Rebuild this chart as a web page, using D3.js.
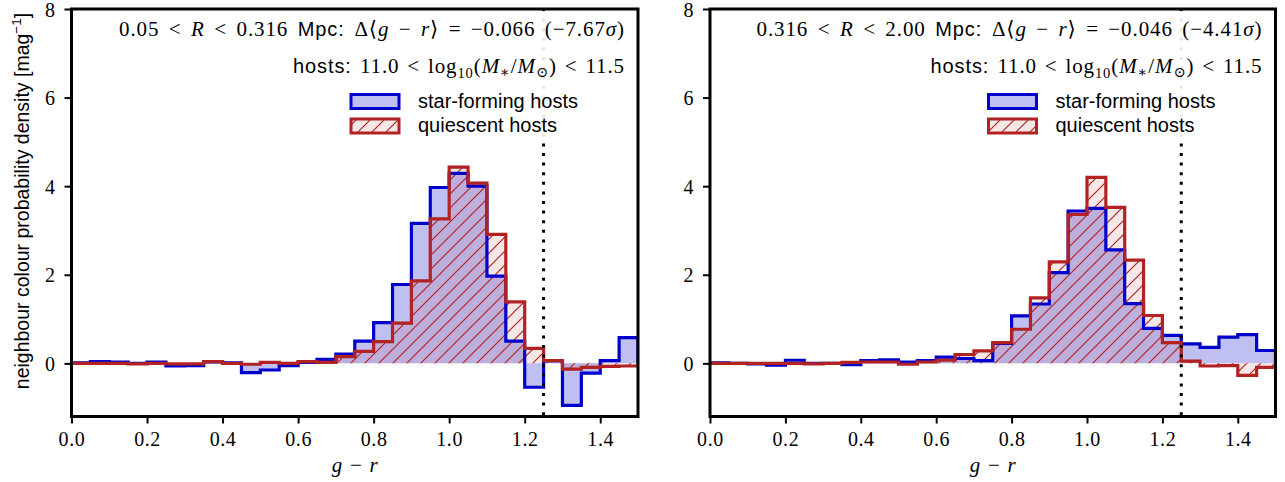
<!DOCTYPE html>
<html>
<head>
<meta charset="utf-8">
<script src="https://cdn.jsdelivr.net/npm/d3@7"></script>
<style>
  html, body { margin: 0; padding: 0; background: #fff; }
  svg { display: block; }
  .serif { font-family: "Liberation Serif", "DejaVu Serif", serif; }
  .sans { font-family: "Liberation Sans", "DejaVu Sans", sans-serif; }
</style>
</head>
<body>
<svg id="chart" width="1285" height="482"></svg>
<script>
// Bin left edges of g−r (bin width 0.05)
const binEdges = d3.range(0, 1.5001, 0.05).map(v => +v.toFixed(2));

// Inner radius bin: 0.05 < R < 0.316 Mpc
const sfInner = [0.01, 0.04, 0.03, 0.00, 0.03, -0.06, -0.05, 0.03, 0.01, -0.21,
                 -0.15, -0.05, 0.02, 0.09, 0.21, 0.50, 0.92, 1.78, 3.16, 3.97,
                 4.29, 4.00, 1.97, 0.50, -0.54, 0.06, -0.95, -0.22, 0.06, 0.58];
const qInner  = [0.00, 0.00, 0.00, -0.01, 0.00, -0.01, -0.01, 0.04, 0.00, -0.02,
                 0.02, 0.00, 0.04, 0.02, 0.15, 0.27, 0.49, 0.91, 1.86, 3.26,
                 4.43, 4.07, 2.91, 1.39, 0.34, 0.06, -0.13, -0.09, -0.07, -0.06];

// Outer radius bin: 0.316 < R < 2.00 Mpc
const sfOuter = [0.01, 0.00, -0.01, -0.04, 0.07, 0.00, 0.00, -0.03, 0.06, 0.08,
                 0.03, 0.06, 0.14, 0.11, 0.06, 0.45, 1.07, 1.34, 2.05, 3.44,
                 3.50, 2.56, 1.35, 0.79, 0.63, 0.44, 0.36, 0.59, 0.65, 0.29];
const qOuter  = [0.00, 0.00, 0.00, 0.00, 0.00, -0.01, 0.00, 0.02, 0.03, 0.03,
                 -0.02, 0.03, 0.07, 0.20, 0.28, 0.47, 0.77, 1.48, 2.29, 3.36,
                 4.20, 3.52, 2.33, 1.08, 0.47, 0.05, -0.06, -0.05, -0.27, -0.09];

const xTicks = [0.0, 0.2, 0.4, 0.6, 0.8, 1.0, 1.2, 1.4];
const yTicks = [0, 2, 4, 6, 8];
const redSequenceCut = 1.25;

const panels = [
  { left: 71.5, right: 638, sf: sfInner, q: qInner,
    radius: ["0.05 < ", "R", " < 0.316 "], delta: "−0.066", sigma: "−7.67" },
  { left: 710, right: 1275.5, sf: sfOuter, q: qOuter,
    radius: ["0.316 < ", "R", " < 2.00 "], delta: "−0.046", sigma: "−4.41" }
];

const plotTop = 9, plotBottom = 416.5;
const blue = "#0000cc", red = "#b22222";
const blueFill = "rgba(0,0,205,0.25)", redFill = "rgba(178,34,34,0.10)";

const svg = d3.select("#chart");
const defs = svg.append("defs");

// Diagonal "/" hatch
const pat = defs.append("pattern").attr("id", "hatch")
  .attr("patternUnits", "userSpaceOnUse").attr("width", 14).attr("height", 14);
pat.append("path").attr("d", "M0,14 L14,0 M-2,2 L2,-2 M12,16 L16,12")
  .attr("stroke", red).attr("stroke-width", 1.2).attr("fill", "none");

const y = d3.scaleLinear().domain([-1.2, 8]).range([plotBottom, plotTop]);

// open up a math-style line (a little tracking, wider gaps) so it spans the given width
function spreadTo(sel, width, tracking) {
  const node = sel.node();
  if (tracking) sel.attr("letter-spacing", tracking);
  const natural = node.getComputedTextLength();
  const gaps = (node.textContent.match(/ /g) || []).length;
  if (gaps > 0 && width > natural) sel.attr("word-spacing", (width - natural) / gaps);
}

panels.forEach((p, i) => {
  const x = d3.scaleLinear().domain([0, 1.5]).range([p.left, p.right]);
  const g = svg.append("g");
  const clipId = "clip" + i;
  defs.append("clipPath").attr("id", clipId).append("rect")
    .attr("x", p.left).attr("y", plotTop).attr("width", p.right - p.left).attr("height", plotBottom - plotTop);

  const plot = g.append("g").attr("clip-path", `url(#${clipId})`);

  // step path for a histogram, closed down to zero at both ends
  const stepPath = vals => {
    let d = `M${x(0)},${y(0)}`;
    vals.forEach((v, k) => {
      d += `L${x(binEdges[k])},${y(v)}L${x(binEdges[k + 1])},${y(v)}`;
    });
    d += `L${x(binEdges[vals.length])},${y(0)}`;
    return d;
  };

  plot.append("path").attr("d", stepPath(p.sf) + "Z").attr("fill", blueFill).attr("stroke", "none");
  plot.append("path").attr("d", stepPath(p.q) + "Z").attr("fill", redFill).attr("stroke", "none");
  plot.append("path").attr("d", stepPath(p.q) + "Z").attr("fill", "url(#hatch)").attr("stroke", "none");
  plot.append("path").attr("d", stepPath(p.sf)).attr("fill", "none")
    .attr("stroke", blue).attr("stroke-width", 3.2).attr("stroke-linejoin", "miter");
  plot.append("path").attr("d", stepPath(p.q)).attr("fill", "none")
    .attr("stroke", red).attr("stroke-width", 3.2).attr("stroke-linejoin", "miter");

  // red-sequence cut
  plot.append("line")
    .attr("x1", x(redSequenceCut)).attr("x2", x(redSequenceCut))
    .attr("y1", plotTop).attr("y2", plotBottom)
    .attr("stroke", "#000").attr("stroke-width", 3).attr("stroke-dasharray", "3,6.6");

  // legend frame (semi-opaque white)
  g.append("rect").attr("x", p.right - 300).attr("y", plotTop + 2)
    .attr("width", 297).attr("height", 130).attr("fill", "#fff").attr("opacity", 0.9);

  // axes
  const xAxis = d3.axisBottom(x).tickValues(xTicks).tickFormat(d3.format(".1f"))
    .tickSizeOuter(0).tickSizeInner(7).tickPadding(8);
  const yAxis = d3.axisLeft(y).tickValues(yTicks).tickFormat(d3.format("d"))
    .tickSizeOuter(0).tickSizeInner(7).tickPadding(9);
  const gx = g.append("g").attr("transform", `translate(0,${plotBottom})`).call(xAxis);
  const gy = g.append("g").attr("transform", `translate(${p.left},0)`).call(yAxis);
  [gx, gy].forEach(ax => {
    ax.select(".domain").remove();
    ax.selectAll(".tick line").attr("stroke", "#000").attr("stroke-width", 2);
    ax.selectAll(".tick text").attr("class", "serif").attr("font-size", 20).attr("fill", "#000")
      .attr("letter-spacing", 0.6);
  });
  gy.selectAll(".tick text").attr("dy", "0.36em");

  g.append("rect").attr("x", p.left).attr("y", plotTop)
    .attr("width", p.right - p.left).attr("height", plotBottom - plotTop)
    .attr("fill", "none").attr("stroke", "#000").attr("stroke-width", 3);

  // x-axis label
  g.append("text").attr("class", "serif").attr("x", (p.left + p.right) / 2).attr("y", 472)
    .attr("text-anchor", "middle").attr("font-size", 21)
    .call(t => {
      t.append("tspan").attr("font-style", "italic").text("g");
      t.append("tspan").text(" − ");
      t.append("tspan").attr("font-style", "italic").text("r");
    })
    .call(t => spreadTo(t, 46, 0));

  // annotation line 1
  const t1 = g.append("text").attr("x", p.right - 13).attr("y", 36)
    .attr("text-anchor", "end").attr("font-size", 21).attr("class", "serif");
  t1.append("tspan").text(p.radius[0]);
  t1.append("tspan").attr("font-style", "italic").text(p.radius[1]);
  t1.append("tspan").text(p.radius[2]);
  t1.append("tspan").attr("class", "sans").attr("font-size", 20).text("Mpc: ");
  t1.append("tspan").text("Δ⟨");
  t1.append("tspan").attr("font-style", "italic").text("g");
  t1.append("tspan").text(" − ");
  t1.append("tspan").attr("font-style", "italic").text("r");
  t1.append("tspan").text(`⟩ = ${p.delta} (${p.sigma}`);
  t1.append("tspan").attr("font-style", "italic").text("σ");
  t1.append("tspan").text(")");
  spreadTo(t1, 506, 0.9);

  // annotation line 2
  const t2 = g.append("text").attr("x", p.right - 13).attr("y", 73)
    .attr("text-anchor", "end").attr("font-size", 21).attr("class", "serif");
  t2.append("tspan").attr("class", "sans").attr("font-size", 20).text("hosts: ");
  t2.append("tspan").text("11.0 < log");
  t2.append("tspan").attr("font-size", 14.5).attr("dy", 5).text("10");
  t2.append("tspan").attr("dy", -5).text("(");
  t2.append("tspan").attr("font-style", "italic").text("M");
  t2.append("tspan").attr("font-size", 14.5).attr("dy", 4).text("∗");
  t2.append("tspan").attr("dy", -4).text("/");
  t2.append("tspan").attr("font-style", "italic").text("M");
  t2.append("tspan").attr("font-size", 14.5).attr("dy", 4).text("⊙");
  t2.append("tspan").attr("dy", -4).text(") < 11.5");
  spreadTo(t2, 332, 0.9);

  // legend
  const lx = p.right - 287;
  g.append("rect").attr("x", lx).attr("y", 94.5).attr("width", 48).attr("height", 14)
    .attr("fill", blueFill).attr("stroke", blue).attr("stroke-width", 3);
  g.append("rect").attr("x", lx).attr("y", 119).attr("width", 48).attr("height", 14)
    .attr("fill", redFill).attr("stroke", "none");
  g.append("rect").attr("x", lx).attr("y", 119).attr("width", 48).attr("height", 14)
    .attr("fill", "url(#hatch)").attr("stroke", red).attr("stroke-width", 3);
  g.append("text").attr("class", "sans").attr("x", lx + 67).attr("y", 108)
    .attr("font-size", 20).text("star-forming hosts");
  g.append("text").attr("class", "sans").attr("x", lx + 67).attr("y", 132)
    .attr("font-size", 20).text("quiescent hosts");
});

// shared y-axis label
svg.append("text").attr("class", "sans").attr("font-size", 19.5)
  .attr("transform", "translate(29,201) rotate(-90)").attr("text-anchor", "middle")
  .call(t => {
    t.append("tspan").text("neighbour colour probability density [mag");
    t.append("tspan").attr("font-size", 13.5).attr("dy", -8).text("−1");
    t.append("tspan").attr("dy", 8).text("]");
  });
</script>
</body>
</html>
